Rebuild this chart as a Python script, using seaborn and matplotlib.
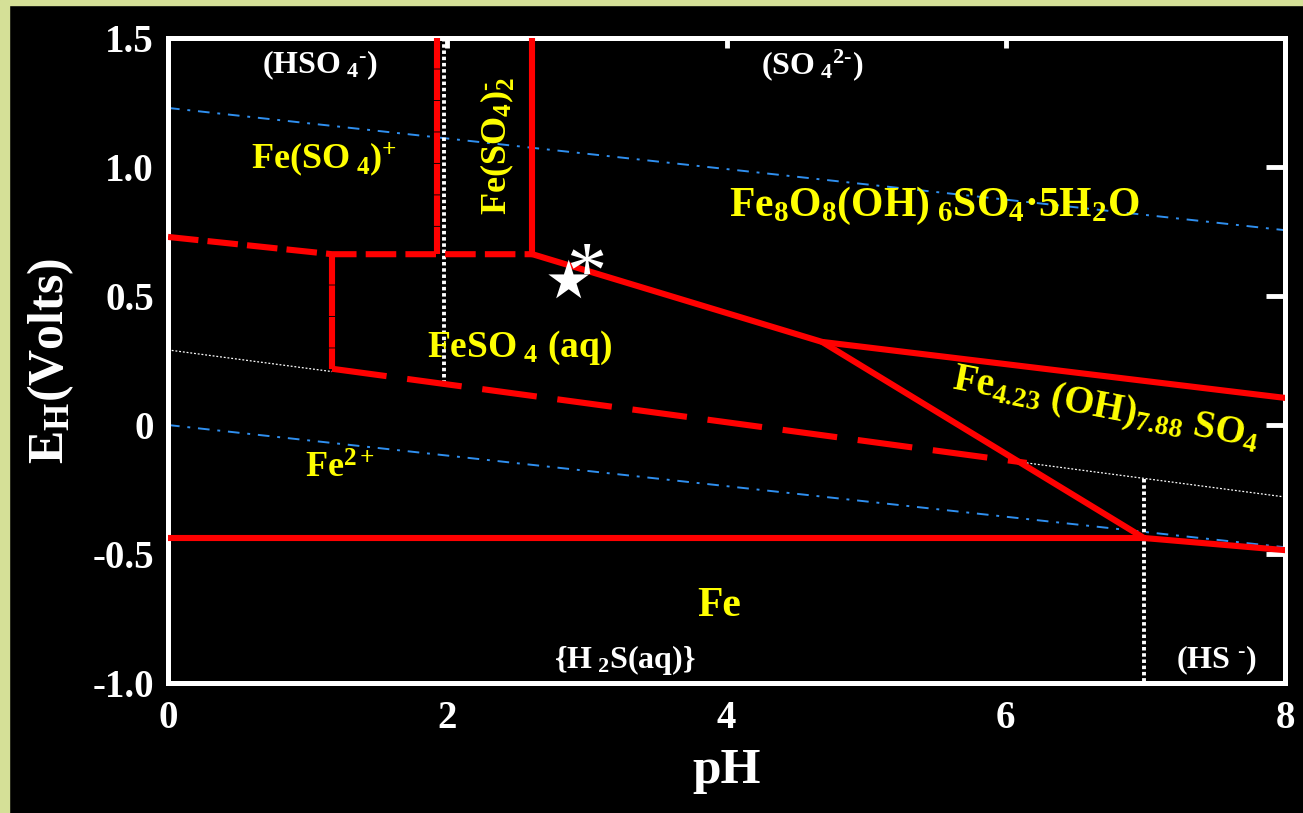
import matplotlib
matplotlib.use("Agg")
import matplotlib.pyplot as plt
from matplotlib.patches import Rectangle
import pandas as pd
import seaborn as sns

# ---- boundary data (pH, Eh in volts) ----
# water stability limits
o2_ph = [0.0, 8.0]
o2_eh = [1.229, 0.755]
h2_ph = [0.0, 8.0]
h2_eh = [0.0, -0.474]

# sulfate / sulfide boundary (visible parts) and sulfur-species divisions
s_redox_left_ph = [0.0, 1.175]
s_redox_left_eh = [0.291, 0.207]
s_redox_right_ph = [6.15, 8.0]
s_redox_right_eh = [-0.147, -0.279]
hso4_so4_ph = [1.98, 1.98]
hso4_so4_eh = [1.5, 0.15]
h2s_hs_ph = [6.99, 6.99]
h2s_hs_eh = [-0.208, -1.0]

# iron phase boundaries, solid
fe2so4_ph = [2.61, 2.61]
fe2so4_eh = [1.5, 0.662]
schw_ph = [2.61, 4.685, 8.0]
schw_eh = [0.662, 0.322, 0.105]
fe423_ph = [4.685, 6.99]
fe423_eh = [0.322, -0.438]
fe_metal_ph = [0.0, 6.99, 8.0]
fe_metal_eh = [-0.438, -0.438, -0.485]

# iron phase boundaries, dashed
feso4p_ph = [1.93, 1.93]
feso4p_eh = [1.5, 0.662]
feso4aq_left_ph = [1.175, 1.175]
feso4aq_left_eh = [0.662, 0.218]
fe3_top_ph = [0.0, 1.175, 2.61]
fe3_top_eh = [0.729, 0.662, 0.662]
feso4aq_low_ph = [1.175, 6.15]
feso4aq_low_eh = [0.218, -0.147]

# sample point
sample_ph = [2.87]
sample_eh = [0.558]

x_ticks = [0, 2, 4, 6, 8]
y_ticks = [-1.0, -0.5, 0.0, 0.5, 1.0, 1.5]
y_tick_labels = ["-1.0", "-0.5", "0", "0.5", "1.0", "1.5"]

sns.set_theme(style="white")
plt.rcParams.update({
    "font.family": ["Liberation Serif", "DejaVu Serif"],
    "font.weight": "bold",
    "axes.labelweight": "bold",
    "mathtext.fontset": "custom",
    "mathtext.rm": "Liberation Serif:bold",
    "mathtext.it": "Liberation Serif:bold:italic",
    "mathtext.bf": "Liberation Serif:bold",
    "mathtext.default": "rm",
    "axes.facecolor": "black",
    "figure.facecolor": "black",
    "axes.edgecolor": "white",
    "text.color": "white",
    "xtick.color": "white",
    "ytick.color": "white",
    "axes.labelcolor": "white",
})

fig = plt.figure(figsize=(13.03, 8.13), dpi=100)
ax = fig.add_axes([168 / 1303, 1 - 683 / 813, (1285 - 168) / 1303, (683 - 38) / 813])

# slide frame edges
fig.patches.append(Rectangle((0, 1 - 5 / 813), 1, 5 / 813, transform=fig.transFigure,
                             color="#d5e097", zorder=0))
fig.patches.append(Rectangle((0, 0), 9 / 1303, 1, transform=fig.transFigure,
                             color="#d5e097", zorder=0))


def draw(ph, eh, color, lw, ls, z=2):
    df = pd.DataFrame({"pH": ph, "Eh": eh})
    sns.lineplot(data=df, x="pH", y="Eh", sort=False, estimator=None, ax=ax,
                 color=color, linewidth=lw, linestyle=ls, zorder=z)


BLUE = "#2f8fef"
RED = "#ff0000"
dashdot = (0, (6, 4, 1.5, 4))
draw(o2_ph, o2_eh, BLUE, 1.4, dashdot, 1)
draw(h2_ph, h2_eh, BLUE, 1.4, dashdot, 1)
draw(s_redox_left_ph, s_redox_left_eh, "white", 0.9, (0, (1.5, 1.5)), 1)
draw(s_redox_right_ph, s_redox_right_eh, "white", 0.9, (0, (1.5, 1.5)), 1)
draw(hso4_so4_ph, hso4_so4_eh, "white", 2.8, (0, (0.9, 0.7)), 1)
draw(h2s_hs_ph, h2s_hs_eh, "white", 2.8, (0, (0.9, 0.7)), 1)

LW = 4.4
for ph, eh in [(fe2so4_ph, fe2so4_eh), (schw_ph, schw_eh),
               (fe423_ph, fe423_eh), (fe_metal_ph, fe_metal_eh)]:
    draw(ph, eh, RED, LW, "-", 3)
tight = (0, (5.0, 0.15))
draw(feso4p_ph, feso4p_eh, RED, LW, tight, 3)
draw(feso4aq_left_ph, feso4aq_left_eh, RED, LW, tight, 3)
draw(fe3_top_ph, fe3_top_eh, RED, LW, (0, (5.0, 1.5)), 3)
draw(feso4aq_low_ph, feso4aq_low_eh, RED, LW, (0, (9, 3.4)), 3)

sns.scatterplot(x=sample_ph, y=sample_eh, marker="*", s=950, color="white",
                edgecolor="none", ax=ax, zorder=5)
ax.text(2.995, 0.573, "*", color="white", fontsize=58, fontweight="normal",
        ha="center", va="center", zorder=5)

# field labels
Y = "#ffff00"
labels = [
    (1.09, 1.395, r"(HSO$_{\ 4}$$^{\text{-}}$)", "white", 23, 0),
    (4.61, 1.395, r"(SO$_{\ 4}$$^{\text{2-}}$)", "white", 23, 0),
    (1.12, 1.03, r"Fe(SO$_{\ 4}$)$^{+}$", Y, 26, 0),
    (2.36, 1.08, r"Fe(SO$_4$)$_2^{\text{-}}$", Y, 26, 90),
    (5.49, 0.85, r"Fe$_8$O$_8$(OH)$_{\ 6}$SO$_4$·5H$_2$O", Y, 30, 0),
    (2.52, 0.30, r"FeSO$_{\ 4}$ (aq)", Y, 27, 0),
    (6.72, 0.06, r"Fe$_{\mathit{4.23}}$ (OH)$_{\mathit{7.88}}$ SO$_4$", Y, 28, -11),
    (1.23, -0.17, r"Fe$^{2+}$", Y, 26, 0),
    (3.95, -0.70, "Fe", Y, 30, 0),
    (3.27, -0.91, r"{H$_{\ 2}$S(aq)}", "white", 23, 0),
    (7.51, -0.91, r"(HS $^{\text{-}}$)", "white", 23, 0),
]
for x, y, s, c, fs, rot in labels:
    ax.text(x, y, s, color=c, fontsize=fs, rotation=rot, ha="center", va="center",
            rotation_mode="anchor", zorder=6)

ax.set_xlim(0, 8)
ax.set_ylim(-1.0, 1.5)
ax.set_xticks(x_ticks)
ax.set_xticklabels([str(v) for v in x_ticks])
ax.set_yticks(y_ticks)
ax.set_yticklabels(y_tick_labels)
ax.tick_params(axis="both", which="major", direction="in", width=3.5, colors="white",
               labelsize=28, top=True, right=True)
ax.tick_params(axis="y", length=14, pad=10)
ax.tick_params(axis="x", length=7, pad=12)
for sp in ax.spines.values():
    sp.set_linewidth(3.6)
    sp.set_color("white")

ax.set_xlabel("pH", fontsize=37, fontweight="bold", labelpad=8)
ax.set_ylabel(r"E$_{\rm H}$(Volts)", fontsize=36, fontweight="bold", labelpad=12)

fig.savefig("out.png", dpi=100, facecolor="black")
